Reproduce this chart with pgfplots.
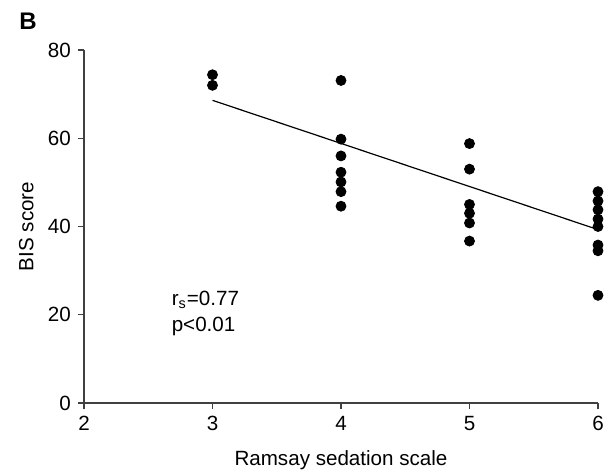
\documentclass[border=0pt]{standalone}
\usepackage{pgfplots}
\pgfplotsset{compat=1.18}
\usepackage{fontspec}
\setmainfont{Liberation Sans}
\begin{document}
\fontsize{10.3}{12}\selectfont
\begin{tikzpicture}
\useasboundingbox (-42pt,-34.5pt) rectangle (262.5pt,201.5pt);
\begin{axis}[
  at={(0,0)}, anchor=south west,
  scale only axis, width=257pt, height=176.5pt,
  xmin=2, xmax=6, ymin=0, ymax=80,
  xtick={2,3,4,5,6}, ytick={0,20,40,60,80},
  axis x line*=bottom, axis y line*=left,
  axis line style={draw=black!75, line width=0.6pt},
  tick style={draw=black!75, line width=0.6pt},
  tick align=outside, major tick length=3pt,
  /pgf/number format/assume math mode=true,
  ticklabel style={font=\fontsize{10.3}{12}\selectfont},
  xlabel={Ramsay sedation scale}, ylabel={BIS score},
  xlabel style={yshift=-3pt},
  ylabel style={yshift=0pt},
  clip=false,
]
\addplot[only marks, mark=*, mark size=2.5pt, black] coordinates {
 (3,74.4) (3,72.0)
 (4,73.1) (4,59.8) (4,56.0) (4,52.3) (4,50.1) (4,47.9) (4,44.6)
 (5,58.8) (5,53.0) (5,45.0) (5,43.0) (5,40.8) (5,36.7)
 (6,47.9) (6,45.8) (6,43.8) (6,41.7) (6,40.0) (6,35.8) (6,34.5) (6,24.4)
};
\addplot[black, line width=0.6pt] coordinates {(3,68.6) (6,39.3)};
\node[anchor=west, align=left, inner sep=0pt] at (axis cs:2.68,20.3) {r\textsubscript{s}=0.77\\[1pt]p<0.01};
\end{axis}
\node[font=\bfseries\fontsize{12}{14}\selectfont] at (-28pt,191pt) {B};
\end{tikzpicture}
\end{document}
